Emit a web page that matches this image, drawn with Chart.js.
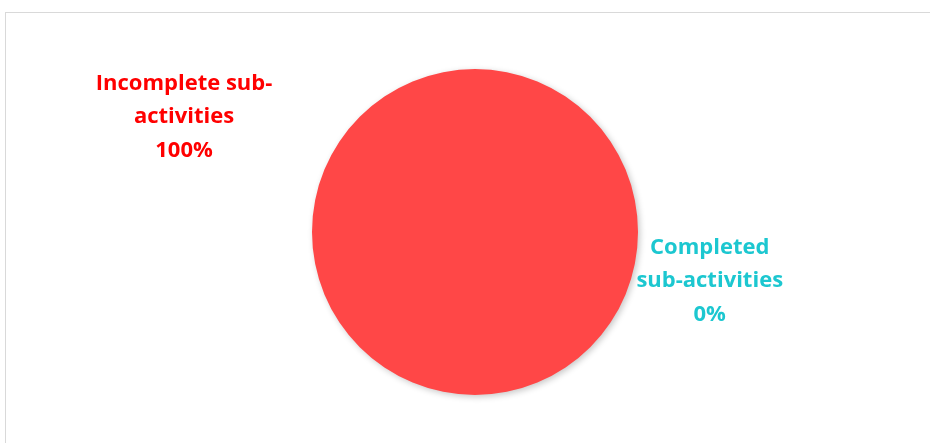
<!DOCTYPE html>
<html>
<head>
<meta charset="utf-8">
<script src="https://cdn.jsdelivr.net/npm/chart.js@4/dist/chart.umd.min.js"></script>
<style>
    html, body { margin: 0; padding: 0; background: #fff; overflow: hidden; }
    #wrap { position: relative; width: 930px; height: 443px; }
    #frame { position: absolute; left: 5px; top: 12px; width: 1000px; height: 500px; border: 1px solid #D9D9D9; }
    #myChart { position: absolute; left: 0; top: 0; }
</style>
</head>
<body>
<div id="wrap">
    <div id="frame"></div>
    <canvas id="myChart" width="930" height="443"></canvas>
</div>
<script>
const labels = ['Incomplete sub-activities', 'Completed sub-activities'];
const labelLines = [
    ['Incomplete sub-', 'activities'],
    ['Completed', 'sub-activities']
];
const valores = [100, 0];
const cores = ['#FF4747', '#1CC7D0'];
const coresTexto = ['#FF0000', '#1CC7D0'];
// posicao do rotulo, em raios a partir do centro
const posRotulo = [[-1.785, -0.705], [1.44, 0.30]];

const sombra = {
    id: 'sombra',
    beforeDatasetsDraw(chart) {
        const ctx = chart.ctx;
        ctx.save();
        ctx.shadowColor = 'rgba(0,0,0,0.22)';
        ctx.shadowBlur = 6;
        ctx.shadowOffsetX = 2;
        ctx.shadowOffsetY = 2;
    },
    afterDatasetsDraw(chart) {
        chart.ctx.restore();
    }
};

const rotulos = {
    id: 'rotulos',
    afterDraw(chart) {
        const ctx = chart.ctx;
        const arc = chart.getDatasetMeta(0).data[0];
        const total = valores.reduce((a, b) => a + b, 0);
        ctx.save();
        ctx.font = 'bold 22px "Open Sans"';
        ctx.textAlign = 'center';
        ctx.textBaseline = 'middle';
        valores.forEach((v, i) => {
            const cx = arc.x + posRotulo[i][0] * arc.outerRadius;
            const cy = arc.y + posRotulo[i][1] * arc.outerRadius;
            const linhas = labelLines[i].concat([Math.round(v / total * 100) + '%']);
            ctx.fillStyle = coresTexto[i];
            linhas.forEach((t, j) => {
                ctx.fillText(t, cx, cy + (j - 1) * 33.5);
            });
        });
        ctx.restore();
    }
};

const config = {
    type: 'pie',
    data: {
        labels: labels,
        datasets: [{
            data: valores,
            backgroundColor: cores,
            borderWidth: 0
        }]
    },
    options: {
        responsive: false,
        animation: false,
        layout: {
            padding: { left: 20, right: 0, top: 69, bottom: 48 }
        },
        plugins: {
            legend: { display: false },
            tooltip: { enabled: false }
        }
    },
    plugins: [sombra, rotulos]
};

const myChart = new Chart(document.getElementById('myChart'), config);
</script>
</body>
</html>
